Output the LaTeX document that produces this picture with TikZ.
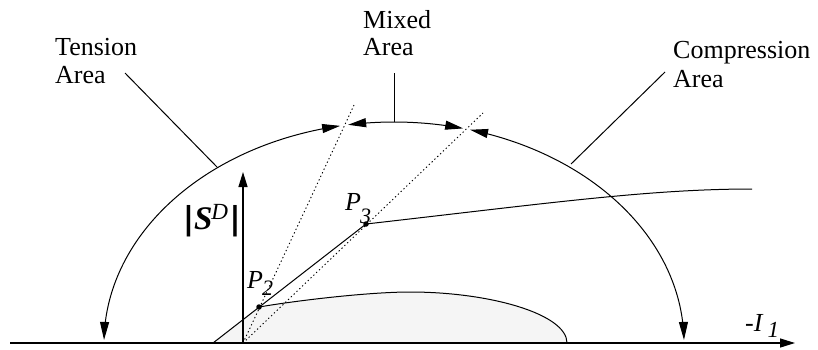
\documentclass[tikz,border=0pt]{standalone}
\usepackage{fontspec}
\setmainfont{Liberation Serif}
\usetikzlibrary{arrows.meta}
\begin{document}
\begin{tikzpicture}[x=1pt,y=-1pt,
  lbl/.style={inner sep=0pt,anchor=base west,font=\fontsize{26}{28}\selectfont},
  ln/.style={line width=1pt},
  axisline/.style={line width=1.3pt,-{Triangle[length=15pt,width=9pt]}},
  arcarrow/.style={line width=1pt,{Triangle[length=18pt,width=9pt]}-{Triangle[length=18pt,width=9pt]}},
  ptdot/.style={circle,fill,inner sep=0pt,minimum size=5.5pt},
  dotline/.style={line width=0.9pt,dash pattern=on 1.3pt off 2.6pt}]
\useasboundingbox (0,0) rectangle (818,349);

% key points
\coordinate (O) at (243,343);
\coordinate (xs) at (10,343);
\coordinate (xe) at (795,343);
\coordinate (ytop) at (243,172);
\coordinate (B) at (213,343);
\coordinate (E2) at (567,343);
\coordinate (E3) at (752,189);
\coordinate (d1) at (355,103);
\coordinate (d2) at (483,113);

% shaded region
\fill[gray!8] (B) -- (259,307) .. controls (300,300) and (370,292) .. (410,292)
  .. controls (490,292) and (567,314) .. (E2) -- cycle;

% dotted lines
\draw[dotline] (O) -- (d1);
\draw[dotline] (O) -- (d2);

% axes
\draw[axisline] (xs) -- (xe);
\draw[axisline] (O) -- (ytop);

% curves
\node[ptdot] (P2) at (259,307) {};
\node[ptdot] (P3) at (366,224) {};
\draw[ln] (B) -- (P3.center);
\draw[ln] (P2.center) .. controls (300,300) and (370,292) .. (410,292)
  .. controls (490,292) and (567,314) .. (E2);
\draw[ln] (P3.center) .. controls (550,203) and (650,189) .. (E3);

% arcs with arrows
\draw[arcarrow] plot[domain=100.7:179.2,samples=90,variable=\t] ({394+290*cos(\t)},{343-221*sin(\t)});
\draw[arcarrow] plot[domain=76.2:99.1,samples=40,variable=\t] ({394+290*cos(\t)},{343-221*sin(\t)});
\draw[arcarrow] plot[domain=0.8:74.8,samples=90,variable=\t] ({394+290*cos(\t)},{343-221*sin(\t)});

% labels
\node[lbl] (tens1) at (55,55) {Tension};
\node[lbl] (tens2) at (55,83) {Area};
\node[lbl] (mix1) at (363,28) {Mixed};
\node[lbl] (mix2) at (363,55) {Area};
\node[lbl] (comp1) at (673,58) {Compression};
\node[lbl] (comp2) at (673,87) {Area};

% leaders
\coordinate (tl0) at (125,73);
\coordinate (tl1) at (217,167);
\coordinate (ml0) at (394,73);
\coordinate (ml1) at (394,122);
\coordinate (cl0) at (665,72);
\coordinate (cl1) at (571,164);
\draw[ln] (tl0) -- (tl1);
\draw[ln] (ml0) -- (ml1);
\draw[ln] (cl0) -- (cl1);

% math labels
\node[inner sep=0pt,anchor=base west,font=\fontsize{33}{35}\selectfont] (SD) at (183,229)
  {\scalebox{1.5}[1.05]{\textbf{|}}\textbf{\textit{S}}\kern-1pt\textsuperscript{\textit{D}}\kern1pt\scalebox{1.5}[1.05]{\textbf{|}}};
\node[lbl] (p2lbl) at (247,288) {\textit{P}\kern-1pt\raisebox{-7pt}{\fontsize{22}{22}\selectfont\textit{2}}};
\node[lbl] (p3lbl) at (345,210) {\textit{P}\kern-1pt\raisebox{-13pt}{\fontsize{22}{22}\selectfont\textit{3}}};
\node[lbl] (ilbl) at (745,331) {\textit{-I}\kern4pt\raisebox{-6pt}{\fontsize{23}{23}\selectfont\textit{1}}};
\end{tikzpicture}
\end{document}
